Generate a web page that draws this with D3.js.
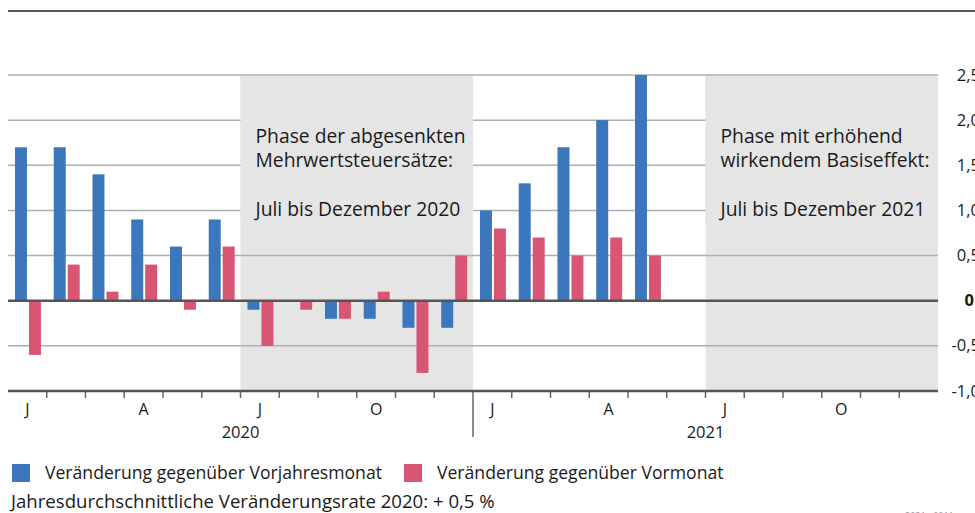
<!DOCTYPE html>
<html>
<head>
<meta charset="utf-8">
<script src="https://cdn.jsdelivr.net/npm/d3@7"></script>
<style>
  body { margin: 0; background: #fff; }
  svg { display: block; font-family: "Open Sans", sans-serif; }
</style>
</head>
<body>
<div id="chart"></div>
<script>
// months Jan 2020 .. Dec 2021
const months = d3.range(24);
const monthLetters = ["J", "F", "M", "A", "M", "J", "J", "A", "S", "O", "N", "D"];
const years = ["2020", "2021"];

// Veränderung gegenüber Vorjahresmonat (%)
const vorjahr = [1.7, 1.7, 1.4, 0.9, 0.6, 0.9, -0.1, 0.0, -0.2, -0.2, -0.3, -0.3,
                 1.0, 1.3, 1.7, 2.0, 2.5];
// Veränderung gegenüber Vormonat (%)
const vormonat = [-0.6, 0.4, 0.1, 0.4, -0.1, 0.6, -0.5, -0.1, -0.2, 0.1, -0.8, 0.5,
                  0.8, 0.7, 0.5, 0.7, 0.5];

const yTicks = [-1.0, -0.5, 0, 0.5, 1.0, 1.5, 2.0, 2.5];

const series = [
  { key: "vorjahr", name: "Veränderung gegenüber Vorjahresmonat", color: "#3c76bd", values: vorjahr },
  { key: "vormonat", name: "Veränderung gegenüber Vormonat", color: "#d85673", values: vormonat }
];

// shaded phases [first month, last month]
const phases = [
  { from: 6, to: 11, lines: ["Phase der abgesenkten", "Mehrwertsteuersätze:", "", "Juli bis Dezember 2020"] },
  { from: 18, to: 23, lines: ["Phase mit erhöhend", "wirkendem Basiseffekt:", "", "Juli bis Dezember 2021"] }
];

const width = 975, height = 513;
const left = 8, right = 938;

const svg = d3.select("#chart").append("svg")
  .attr("width", width)
  .attr("height", height);

const x = d3.scaleBand().domain(months).range([left, right]).padding(0);
const xs = d3.scaleBand().domain(series.map(s => s.key))
  .range([x.bandwidth() * 0.18, x.bandwidth() * 0.85]).paddingInner(0.143);
const y = d3.scaleLinear().domain([-1, 2.5]).range([391, 75]);

// top rule
svg.append("line")
  .attr("x1", left).attr("x2", width)
  .attr("y1", 11).attr("y2", 11)
  .attr("stroke", "#5a5a5a").attr("stroke-width", 2);

// phase bands
svg.selectAll(".band")
  .data(phases)
  .enter().append("rect")
  .attr("class", "band")
  .attr("x", d => x(d.from))
  .attr("width", d => x(d.to) + x.bandwidth() - x(d.from))
  .attr("y", y(2.5))
  .attr("height", y(-1) - y(2.5))
  .attr("fill", "#e5e5e5");

// grid
svg.selectAll(".grid")
  .data(yTicks.filter(t => t !== 0 && t !== -1))
  .enter().append("line")
  .attr("class", "grid")
  .attr("x1", left).attr("x2", right)
  .attr("y1", d => y(d)).attr("y2", d => y(d))
  .attr("stroke", "#b0b0b0").attr("stroke-width", 1.5);

// text boxes hide the grid behind the labels
svg.selectAll(".tbox")
  .data(phases)
  .enter().append("rect")
  .attr("class", "tbox")
  .attr("x", d => x(d.from))
  .attr("width", d => x(d.to) + x.bandwidth() - x(d.from))
  .attr("y", y(2.5) + 1)
  .attr("height", 147)
  .attr("fill", "#e5e5e5");

phases.forEach(p => {
  const t = svg.append("text")
    .attr("x", x(p.from) + 15)
    .attr("y", 143)
    .attr("font-size", 19.3)
    .attr("fill", "#1a1a1a");
  p.lines.forEach((l, i) => {
    t.append("tspan").attr("x", x(p.from) + 15).attr("y", 143 + i * 24.3).text(l);
  });
});

// bars
series.forEach(s => {
  svg.append("g").selectAll("rect")
    .data(s.values.map((v, i) => ({ i, v })))
    .enter().append("rect")
    .attr("x", d => x(d.i) + xs(s.key))
    .attr("width", xs.bandwidth())
    .attr("y", d => y(Math.max(0, d.v)))
    .attr("height", d => Math.abs(y(d.v) - y(0)))
    .attr("fill", s.color);
});

// zero line and bottom axis
svg.append("line")
  .attr("x1", left).attr("x2", right)
  .attr("y1", y(0)).attr("y2", y(0))
  .attr("stroke", "#555").attr("stroke-width", 2.5);

const xAxis = d3.axisBottom(x)
  .tickValues(months.filter(m => m % 3 === 0))
  .tickFormat(m => monthLetters[m % 12])
  .tickSize(0)
  .tickPadding(13);

const ax = svg.append("g")
  .attr("transform", `translate(0,${y(-1)})`)
  .call(xAxis);
ax.select(".domain").remove();
ax.selectAll("text")
  .attr("font-family", "Open Sans, sans-serif")
  .attr("font-size", 16)
  .attr("fill", "#1a1a1a");

// month boundary ticks
svg.selectAll(".mtick")
  .data(months.slice(1))
  .enter().append("line")
  .attr("class", "mtick")
  .attr("x1", d => x(d)).attr("x2", d => x(d))
  .attr("y1", y(-1))
  .attr("y2", d => d === 12 ? 437 : y(-1) + 7)
  .attr("stroke", "#666").attr("stroke-width", 1.5);

svg.append("line")
  .attr("x1", left).attr("x2", right)
  .attr("y1", y(-1)).attr("y2", y(-1))
  .attr("stroke", "#555").attr("stroke-width", 2.5);

// year labels
svg.selectAll(".year")
  .data(years)
  .enter().append("text")
  .attr("class", "year")
  .attr("x", (d, i) => x(i * 12 + 6))
  .attr("y", 438)
  .attr("text-anchor", "middle")
  .attr("font-size", 16.5)
  .attr("fill", "#1a1a1a")
  .text(d => d);

// right axis labels
svg.selectAll(".ylab")
  .data(yTicks)
  .enter().append("text")
  .attr("class", "ylab")
  .attr("x", d => d === 0 ? 974 : 980)
  .attr("y", d => y(d) + 5.5)
  .attr("text-anchor", "end")
  .attr("font-size", 16.5)
  .attr("font-weight", d => d === 0 ? "bold" : "normal")
  .attr("fill", "#1a1a1a")
  .text(d => d === 0 ? "0" : d3.format(".1f")(d).replace(".", ",").replace("−", "-"));

// legend
const legend = svg.selectAll(".legend")
  .data(series)
  .enter().append("g")
  .attr("class", "legend")
  .attr("transform", (d, i) => `translate(${i === 0 ? 12 : 404},464)`);

legend.append("rect")
  .attr("width", 18).attr("height", 18)
  .attr("fill", d => d.color);

legend.append("text")
  .attr("x", 33)
  .attr("y", 15)
  .attr("font-size", 17.6)
  .attr("fill", "#1a1a1a")
  .text(d => d.name);

svg.append("text")
  .attr("x", 11)
  .attr("y", 508)
  .attr("font-size", 18.6)
  .attr("fill", "#1a1a1a")
  .text("Jahresdurchschnittliche Veränderungsrate 2020: + 0,5 %");

svg.append("text")
  .attr("x", 905)
  .attr("y", 519)
  .attr("font-size", 9)
  .attr("fill", "#999")
  .text("2021 - 0011");
</script>
</body>
</html>
